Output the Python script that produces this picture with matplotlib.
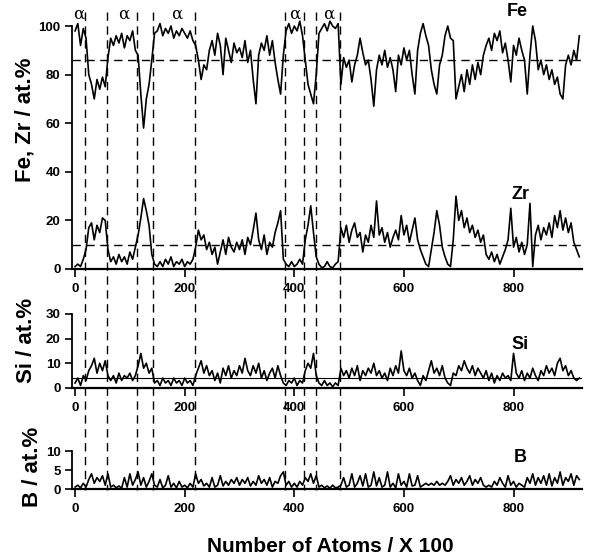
import numpy as np
import matplotlib
matplotlib.use("Agg")
import matplotlib.pyplot as plt
from matplotlib.lines import Line2D

plt.rcParams['font.family'] = ['Liberation Sans', 'DejaVu Sans']
plt.rcParams['font.weight'] = 'bold'

# positions along the analysis (x 100 atoms), one reading every 5
atoms = np.arange(0, 925, 5)

fe = [98, 101, 92, 99, 95, 80, 76, 70, 78, 74,
      79, 75, 87, 95, 92, 96, 93, 97, 91, 96,
      94, 98, 90, 88, 72, 58, 70, 76, 86, 97,
      98, 101, 96, 99, 97, 100, 95, 98, 96, 99,
      97, 95, 98, 94, 92, 86, 78, 84, 82, 90,
      94, 88, 97, 92, 80, 95, 90, 85, 93, 89,
      91, 87, 94, 85, 90, 78, 68, 88, 93, 90,
      96, 88, 94, 85, 78, 72, 88, 98, 101, 97,
      100, 98, 102, 96, 86, 76, 72, 68, 80, 97,
      99, 101, 98, 102, 100, 99, 101, 76, 87, 83,
      86, 77, 84, 88, 95, 89, 84, 86, 78, 67,
      82, 88, 84, 90, 83, 87, 82, 73, 88, 84,
      91, 86, 90, 80, 72, 90, 97, 101, 96, 92,
      82, 76, 72, 84, 88, 96, 100, 95, 94, 70,
      75, 80, 73, 82, 76, 84, 78, 85, 80, 88,
      92, 95, 90, 97, 94, 98, 89, 93, 86, 77,
      92, 88, 95, 90, 86, 72, 88, 100, 94, 82,
      86, 80, 84, 78, 82, 76, 79, 72, 70, 84,
      88, 84, 90, 86, 96]

zr = [1, 2, 1, 4, 8, 17, 19, 12, 18, 15,
      21, 20, 8, 3, 5, 2, 6, 3, 5, 2,
      7, 4, 9, 14, 21, 29, 24, 18, 6, 2,
      1, 3, 1, 4, 2, 5, 1, 3, 2, 4,
      1, 3, 2, 4, 9, 16, 12, 14, 8, 11,
      6, 9, 2, 7, 12, 6, 13, 9, 7, 11,
      8, 12, 6, 13, 10, 16, 23, 12, 8, 14,
      6, 11, 9, 15, 19, 24, 4, 2, 1, 3,
      1, 2, 4, 2, 12, 18, 26, 15, 5, 2,
      0.5, 1, 3, 1, 0.5, 2, 3, 17, 13, 18,
      11, 16, 19, 13, 15, 7, 14, 11, 18, 13,
      28, 14, 17, 11, 15, 9, 13, 16, 12, 22,
      14, 18, 11, 16, 21, 12, 8, 5, 2, 1,
      8, 15, 24, 18, 9, 5, 2, 1, 12, 30,
      20, 24, 17, 21, 15, 18, 13, 16, 11, 14,
      6, 4, 7, 3, 6, 2, 5, 8, 12, 25,
      9, 13, 7, 11, 6, 10, 27, 1, 14, 18,
      12, 17, 14, 19, 13, 22, 17, 24, 16, 21,
      15, 19, 11, 8, 5]

si = [2, 4, 1, 5, 3, 7, 9, 12, 6, 10,
      7, 11, 5, 3, 5, 2, 6, 3, 5, 4,
      6, 3, 5, 9, 14, 8, 10, 6, 8, 2,
      3, 1, 4, 2, 3, 1, 4, 2, 3, 1,
      4, 2, 3, 1, 5, 8, 11, 6, 9, 5,
      7, 3, 6, 2, 8, 5, 9, 4, 7, 5,
      9, 6, 12, 7, 5, 9, 6, 10, 4, 7,
      3, 6, 8, 4, 9, 5, 2, 1, 3, 2,
      4, 1, 3, 2, 7, 10, 8, 14, 5, 2,
      1, 3, 1, 2, 0.5, 2, 1, 8, 5, 7,
      4, 8, 5, 9, 3, 7, 5, 8, 6, 10,
      5, 7, 4, 6, 3, 8, 5, 9, 6, 15,
      7, 5, 8, 4, 6, 3, 1, 5, 3, 7,
      11, 6, 8, 5, 9, 4, 2, 1, 6, 5,
      9, 7, 11, 8, 6, 9, 5, 8, 6, 4,
      7, 3, 6, 2, 5, 3, 6, 4, 5, 3,
      14, 6, 4, 7, 3, 6, 4, 8, 5, 3,
      7, 5, 9, 6, 8, 5, 10, 12, 7, 9,
      5, 7, 4, 3, 4]

b = [0.5, 1, 0.3, 1.5, 0.5, 2.5, 4, 1.5, 3, 2,
     3.5, 1, 4, 0.5, 1, 0.3, 0.8, 0.2, 3, 0.5,
     4, 1, 2.5, 4.5, 1, 3, 0.5, 2, 4, 1,
     0.5, 2.5, 0.3, 1, 3.5, 0.5, 1.5, 0.3, 2, 0.5,
     1, 0.3, 1.5, 0.5, 4, 1.5, 2.5, 0.8, 1.5, 0.5,
     3, 0.5, 1, 3.5, 0.8, 2, 1, 2.5, 1.5, 3,
     1, 2.5, 1.5, 3, 0.8, 2, 1, 3.5, 1.5, 2.5,
     1, 3, 0.5, 2, 1.5, 3.5, 4.5, 1, 2, 0.5,
     1.5, 0.5, 2, 1, 3, 2, 4, 1.5, 3.5, 0.5,
     1, 0.3, 0.8, 0.2, 1, 0.3, 0.5, 1, 3, 0.5,
     1, 4, 0.5, 1.5, 3.5, 0.8, 4, 0.5, 1, 4.5,
     0.8, 3, 0.5, 1, 4.5, 0.5, 1.5, 0.3, 4, 1,
     2, 0.5, 4, 0.8, 1, 3.5, 0.5, 1, 1.5, 1,
     1.5, 1, 2, 1, 1.5, 1, 2, 3.5, 1, 2.5,
     1.5, 3, 1, 2, 3.5, 1, 2.5, 1.5, 3, 1,
     0.5, 1, 0.5, 2, 1, 3, 1.5, 0.5, 3.5, 1,
     2, 0.5, 1.5, 1, 0.5, 3, 1.5, 4, 1, 3,
     1.5, 3.5, 1, 4, 0.8, 3, 1.5, 4.5, 1, 3,
     2, 4, 1, 3.5, 2.5]

# phase boundaries and alpha-Fe regions
boundaries = [18, 58, 113, 143, 219, 383, 418, 440, 483]
alpha_pos = [7, 88, 185, 400, 463]

# average levels
fe_mean, zr_mean, si_mean = 86, 10, 4

fig = plt.figure(figsize=(5.89, 5.60), dpi=100)
left, width = 0.1228, 0.8654
ax1 = fig.add_axes([left, 0.5023, width, 0.4946])
ax2 = fig.add_axes([left, 0.2984, width, 0.1500])
ax3 = fig.add_axes([left, 0.1166, width, 0.0848])

def style(ax, ylim, yticks):
    ax.set_xlim(-5, 925)
    ax.set_ylim(*ylim)
    for s in ['top', 'right']:
        ax.spines[s].set_visible(False)
    ax.spines['bottom'].set_position(('data', 0))
    ax.spines['bottom'].set_linewidth(1.6)
    ax.spines['left'].set_linewidth(1.3)
    ax.spines['left'].set_bounds(yticks[0], yticks[-1])
    ax.set_yticks(yticks)
    ax.set_xticks([0, 200, 400, 600, 800])
    ax.tick_params(axis='both', labelsize=9.5, width=1.2, length=5)
    ax.tick_params(axis='x', length=6, pad=4)
    for lab in ax.get_xticklabels() + ax.get_yticklabels():
        lab.set_fontweight('bold')
    ax.patch.set_visible(False)

style(ax1, (-4, 110), [0, 20, 40, 60, 80, 100])
style(ax2, (-2, 32), [0, 10, 20, 30])
style(ax3, (-1.5, 11), [0, 5, 10])

ax1.plot(atoms, fe, color='k', lw=1.2)
ax1.plot(atoms, zr, color='k', lw=1.2)
ax1.axhline(fe_mean, color='k', ls=(0, (6, 4)), lw=1.0)
ax1.axhline(zr_mean, color='k', ls=(0, (6, 4)), lw=1.0)
ax2.plot(atoms, si, color='k', lw=1.2)
ax2.axhline(si_mean, color='k', lw=0.8)
ax3.plot(atoms, b, color='k', lw=1.2)

ax1.text(806, 106, 'Fe', fontsize=13, fontweight='bold', ha='center', va='center')
ax1.text(812, 30.5, 'Zr', fontsize=13, fontweight='bold', ha='center', va='center')
ax2.text(812, 17.5, 'Si', fontsize=13, fontweight='bold', ha='center', va='center')
ax3.text(812, 8.4, 'B', fontsize=13, fontweight='bold', ha='center', va='center')

for xa in alpha_pos:
    ax1.text(xa, 105, 'α', fontsize=12, fontweight='normal', ha='center',
             va='center', family='DejaVu Serif', clip_on=False)

# dashed boundary lines through all three panels
inv = fig.transFigure.inverted()
for xb in boundaries:
    xf = inv.transform(ax1.transData.transform((xb, 0)))[0]
    fig.add_artist(Line2D([xf, xf], [1 - 12 / 560, 1 - 490 / 560],
                          transform=fig.transFigure, color='k',
                          ls=(0, (6, 4)), lw=1.0))

fig.text(25 / 589, 1 - 120 / 560, 'Fe, Zr / at.%', rotation=90, fontsize=16,
         fontweight='bold', ha='center', va='center')
fig.text(27 / 589, 1 - 340 / 560, 'Si / at.%', rotation=90, fontsize=16,
         fontweight='bold', ha='center', va='center')
fig.text(33 / 589, 1 - 467 / 560, 'B / at.%', rotation=90, fontsize=16,
         fontweight='bold', ha='center', va='center')
fig.text(330 / 589, 1 - 547 / 560, 'Number of Atoms / X 100', fontsize=15,
         fontweight='bold', ha='center', va='center')

fig.savefig('out.png', dpi=100)
